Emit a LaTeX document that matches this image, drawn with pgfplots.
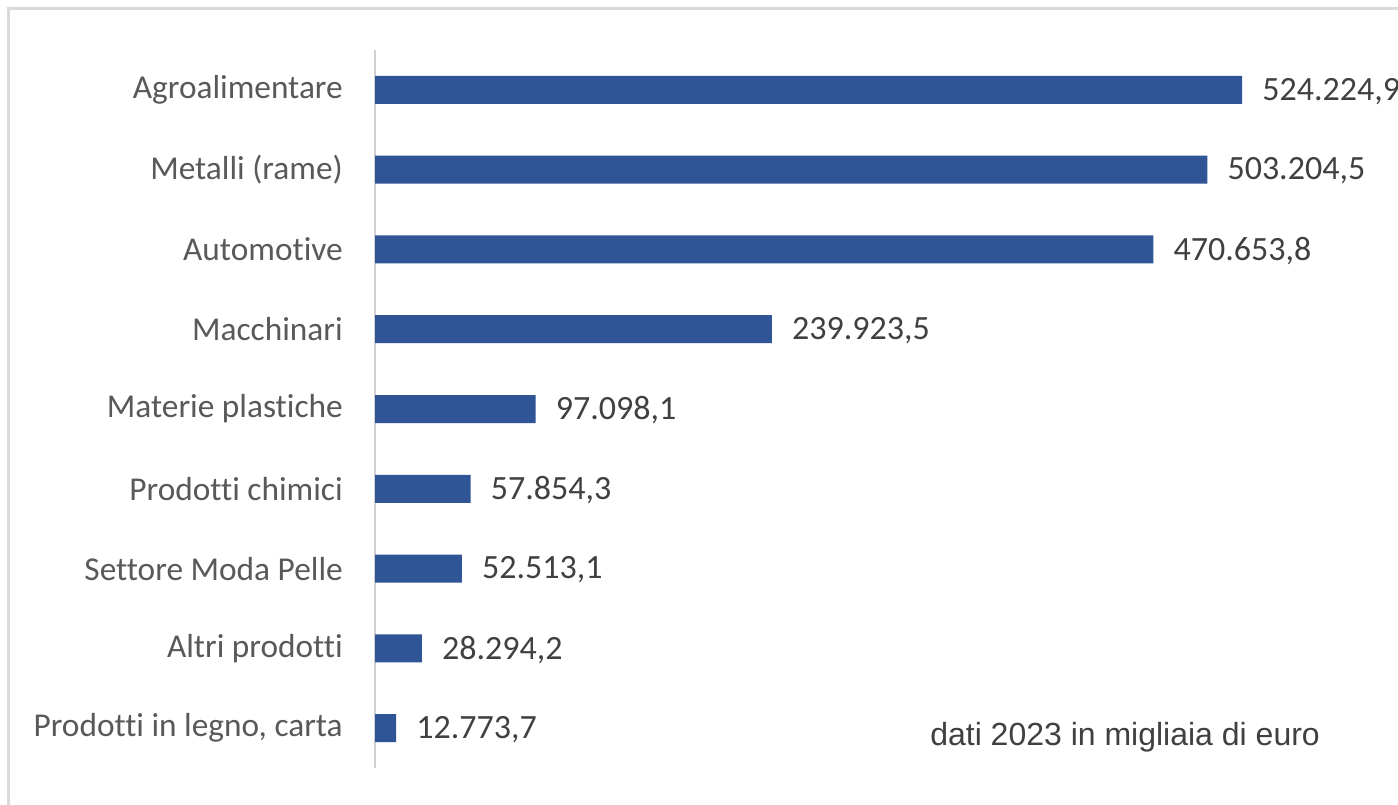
\documentclass[border=0pt]{standalone}
\usepackage{pgfplots}
\pgfplotsset{compat=1.18}
\usepackage{fontspec}
\setmainfont{Carlito}[Ligatures={NoCommon}]
\newfontfamily\notefont{Liberation Sans}
\definecolor{barblue}{HTML}{2F5597}
\definecolor{labgray}{HTML}{595959}
\definecolor{valgray}{HTML}{404040}
\definecolor{linegray}{HTML}{D0D0D0}
\definecolor{framegray}{HTML}{DADADA}
\begin{document}
\begin{tikzpicture}[x=0.75pt,y=0.75pt]
\useasboundingbox (0,0) rectangle (1398,804);
\fill[white] (0,0) rectangle (1398,804);
\begin{scope}
\clip (0,0) rectangle (1398,804);
\draw[framegray, line width=2.2pt] (8.5,-20) -- (8.5,795.5) -- (1420,795.5);
\end{scope}
\begin{axis}[
  at={(281.25pt,27pt)}, anchor=south west,
  scale only axis,
  width=767.25pt, height=538.5pt,
  xmin=0, xmax=618540,
  ymin=-0.5, ymax=8.5,
  axis x line=none,
  axis y line*=left,
  y axis line style={linegray, line width=1.4pt, -},
  xbar, bar width=21pt,
  ytick={0,...,8},
  yticklabels={{Prodotti in legno, carta},{Altri prodotti},{Settore Moda Pelle},{Prodotti chimici},{Materie plastiche},{Macchinari},{Automotive},{Metalli (rame)},{Agroalimentare}},
  major tick length=0pt,
  yticklabel style={font=\fontsize{25}{30}\selectfont, text=labgray, inner sep=0pt, xshift=-24pt},
  clip=false,
  point meta=explicit symbolic,
  nodes near coords,
  nodes near coords style={font=\fontsize{25.5}{30}\selectfont, text=valgray, anchor=west, inner sep=0pt, xshift=15pt, yshift=-1pt},
]
\addplot[fill=barblue, draw=none] table[x=x, y=y, meta=label] {
y x label
8 524224.9 524.224,9
7 503204.5 503.204,5
6 470653.8 470.653,8
5 239923.5 239.923,5
4 97098.1 97.098,1
3 57854.3 57.854,3
2 52513.1 52.513,1
1 28294.2 28.294,2
0 12773.7 12.773,7
};
\end{axis}
\node[anchor=base west, inner sep=0pt, text=valgray, font=\notefont\fontsize{24}{28}\selectfont] at (930,59) {dati 2023 in migliaia di euro};
\end{tikzpicture}
\end{document}
